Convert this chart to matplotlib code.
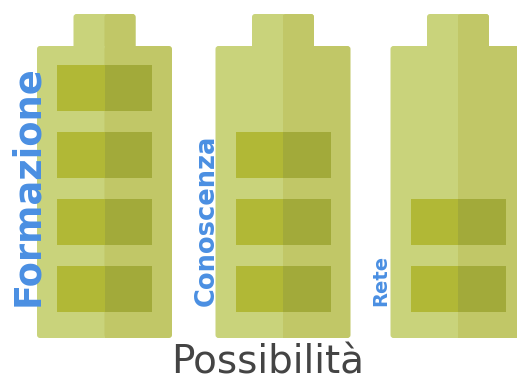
import matplotlib.pyplot as plt
from matplotlib.patches import FancyBboxPatch, Rectangle

# data
labels = ["Formazione", "Conoscenza", "Rete"]
levels = [4, 3, 2]
max_level = 4
title = "Possibilità"

# colours
body_l = "#c9d37b"
body_r = "#c1c767"
cell_l = "#b1b836"
cell_r = "#a2aa3a"
txt_blue = "#4a8fe2"

# layout (pixels)
centers = [104.5, 283, 458]
body_w, body_top, body_bot = 135, 46, 338
cap_w, cap_top = 62, 14
cell_w, cell_h, cell_pitch = 95, 46, 67
cell_bottom = 312
label_size = [26.5, 18.5, 14]
label_x = [28, 207, 381]

fig = plt.figure(figsize=(5.17, 3.82), dpi=100)
ax = fig.add_axes([0, 0, 1, 1])
ax.set_xlim(0, 517)
ax.set_ylim(382, 0)
ax.axis("off")

def rbox(x0, y0, w, h, c, r=3):
    ax.add_patch(FancyBboxPatch((x0 + r, y0 + r), w - 2 * r, h - 2 * r,
                                boxstyle="round,pad=%g" % r, fc=c, ec="none"))

for i, cx in enumerate(centers):
    # cap
    rbox(cx - cap_w / 2, cap_top, cap_w, body_top - cap_top + 5, body_l)
    ax.add_patch(Rectangle((cx, cap_top + 1), cap_w / 2 - 3, body_top - cap_top, fc=body_r, ec="none"))
    ax.add_patch(FancyBboxPatch((cx + 3, cap_top + 3), cap_w / 2 - 6, body_top - cap_top,
                                boxstyle="round,pad=3", fc=body_r, ec="none"))
    # body
    rbox(cx - body_w / 2, body_top, body_w / 2 + 3, body_bot - body_top, body_l)
    ax.add_patch(FancyBboxPatch((cx + 3, body_top + 3), body_w / 2 - 6, body_bot - body_top - 6,
                                boxstyle="round,pad=3", fc=body_r, ec="none"))
    ax.add_patch(Rectangle((cx, body_top), 4, body_bot - body_top, fc=body_r, ec="none"))
    # charge cells
    for k in range(levels[i]):
        y = cell_bottom - cell_h - k * cell_pitch
        ax.add_patch(Rectangle((cx - cell_w / 2, y), cell_w / 2, cell_h, fc=cell_l, ec="none"))
        ax.add_patch(Rectangle((cx, y), cell_w / 2, cell_h, fc=cell_r, ec="none"))
    # label
    ax.text(label_x[i], 306, labels[i], rotation=90, rotation_mode="anchor",
            ha="left", va="center", color=txt_blue, fontweight="bold",
            fontsize=label_size[i], zorder=5)

ax.text(268, 374, title, ha="center", va="baseline", fontsize=28, color="#444444")

fig.savefig("out.png", dpi=100)
